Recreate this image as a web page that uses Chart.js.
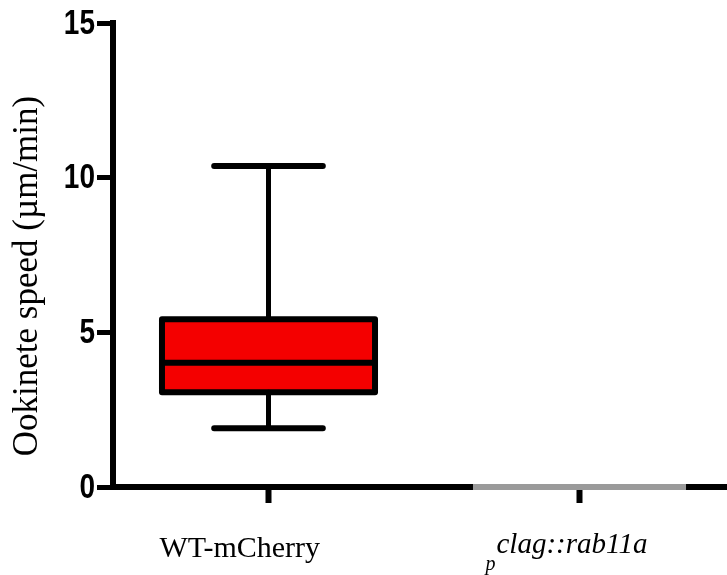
<!DOCTYPE html>
<html>
<head>
<meta charset="utf-8">
<script src="https://cdn.jsdelivr.net/npm/chart.js@4.4.1/dist/chart.umd.min.js"></script>
<style>
html,body{margin:0;padding:0;background:#fff;}
#wrap{width:727px;height:575px;position:relative;}
</style>
</head>
<body>
<div id="wrap"><canvas id="c" width="727" height="575"></canvas></div>
<script>
// ---- data ----
const categories = ['WT-mCherry', 'pclag::rab11a'];
const whiskerMin = [1.9, 0];
const q1 = [3.06, 0];
const median = [4.02, 0];
const q3 = [5.42, 0];
const whiskerMax = [10.38, 0];
const yTicks = [0, 5, 10, 15];
const yTitle = 'Ookinete speed (µm/min)';

const boxColors = ['#f40000', '#9a9a9a'];

// extend the x axis past the right edge of the canvas (as in the reference)
const extendPlugin = {
  id: 'extendX',
  afterLayout(chart) {
    const x = chart.scales.x;
    x.right = x.left + 622;
    x.width = x.right - x.left;
    chart.chartArea.right = x.right;
    chart.chartArea.width = x.width;
    x.configure();
  }
};

const boxPlugin = {
  id: 'boxPlugin',
  afterDraw(chart) {
    const ctx = chart.ctx;
    const y = chart.scales.y;
    const x = chart.scales.x;
    const meta = chart.getDatasetMeta(0);
    ctx.save();
    meta.data.forEach((bar, i) => {
      const cx = bar.x;
      const w = bar.width;
      const left = cx - w / 2, right = cx + w / 2;
      const yq1 = y.getPixelForValue(q1[i]);
      const yq3 = y.getPixelForValue(q3[i]);
      const ymed = y.getPixelForValue(median[i]);
      const ylo = y.getPixelForValue(whiskerMin[i]);
      const yhi = y.getPixelForValue(whiskerMax[i]);
      if (q3[i] - q1[i] <= 0 && whiskerMax[i] - whiskerMin[i] <= 0) {
        ctx.strokeStyle = boxColors[i];
        ctx.lineWidth = 6;
        ctx.lineCap = 'butt';
        ctx.beginPath();
        ctx.moveTo(left, ymed);
        ctx.lineTo(right, ymed);
        ctx.stroke();
        return;
      }
      ctx.strokeStyle = '#000';
      ctx.lineCap = 'round';
      ctx.lineJoin = 'round';
      ctx.lineWidth = 5;
      ctx.beginPath();
      ctx.moveTo(cx, yq3); ctx.lineTo(cx, yhi);
      ctx.moveTo(cx, yq1); ctx.lineTo(cx, ylo);
      ctx.stroke();
      const capW = w * 0.51;
      ctx.lineWidth = 6;
      ctx.beginPath();
      ctx.moveTo(cx - capW / 2, yhi); ctx.lineTo(cx + capW / 2, yhi);
      ctx.moveTo(cx - capW / 2, ylo); ctx.lineTo(cx + capW / 2, ylo);
      ctx.stroke();
      ctx.lineWidth = 6;
      ctx.strokeRect(left, yq3, w, yq1 - yq3);
      ctx.beginPath();
      ctx.lineCap = 'butt';
      ctx.moveTo(left, ymed); ctx.lineTo(right, ymed);
      ctx.stroke();
    });

    // y tick labels (condensed bold)
    ctx.fillStyle = '#000';
    ctx.font = 'bold 35px "Liberation Sans", Arial, sans-serif';
    ctx.textAlign = 'right';
    ctx.textBaseline = 'middle';
    yTicks.forEach(v => {
      const py = y.getPixelForValue(v);
      ctx.save();
      ctx.translate(95, py + 1);
      ctx.scale(0.8, 1);
      ctx.fillText(String(v), 0, 0);
      ctx.restore();
    });

    // x category labels
    ctx.textBaseline = 'alphabetic';
    ctx.textAlign = 'left';
    const x0 = x.getPixelForValue(0);
    ctx.font = '30px "Liberation Serif", "Times New Roman", serif';
    ctx.fillText(categories[0], x0 - 109, 557);
    const x1 = x.getPixelForValue(1);
    ctx.font = 'italic 20px "Liberation Serif", "Times New Roman", serif';
    ctx.fillText(categories[1].charAt(0), x1 - 94, 570);
    ctx.font = 'italic 29px "Liberation Serif", "Times New Roman", serif';
    ctx.fillText(categories[1].slice(1), x1 - 83, 553);

    // y title
    ctx.save();
    ctx.translate(28, 276);
    ctx.rotate(-Math.PI / 2);
    ctx.textAlign = 'center';
    ctx.textBaseline = 'middle';
    ctx.font = '35px "Liberation Serif", "Times New Roman", serif';
    ctx.fillText(yTitle, 0, 0);
    ctx.restore();
    ctx.restore();
  }
};

new Chart(document.getElementById('c'), {
  type: 'bar',
  data: {
    labels: categories,
    datasets: [{
      data: categories.map((_, i) => [q1[i], q3[i]]),
      backgroundColor: boxColors,
      borderWidth: 0,
      barPercentage: 0.685,
      categoryPercentage: 1.0
    }]
  },
  options: {
    responsive: false,
    animation: false,
    events: [],
    layout: { padding: { top: 23, right: 0, bottom: 0, left: 0 } },
    plugins: { legend: { display: false }, tooltip: { enabled: false } },
    scales: {
      x: {
        offset: true,
        grid: { display: true, drawOnChartArea: false, drawTicks: true, offset: false,
                tickLength: 16, tickWidth: 6, tickColor: '#000' },
        border: { display: true, color: '#000', width: 6 },
        ticks: { display: false },
        afterFit: s => { s.height = 88; }
      },
      y: {
        min: 0, max: 15,
        afterBuildTicks: s => { s.ticks = yTicks.map(v => ({ value: v })); },
        grid: { display: true, drawOnChartArea: false, drawTicks: true,
                tickLength: 16, tickWidth: 5, tickColor: '#000' },
        border: { display: true, color: '#000', width: 6 },
        ticks: { display: false },
        afterFit: s => { s.width = 113; }
      }
    }
  },
  plugins: [extendPlugin, boxPlugin]
});
</script>
</body>
</html>
